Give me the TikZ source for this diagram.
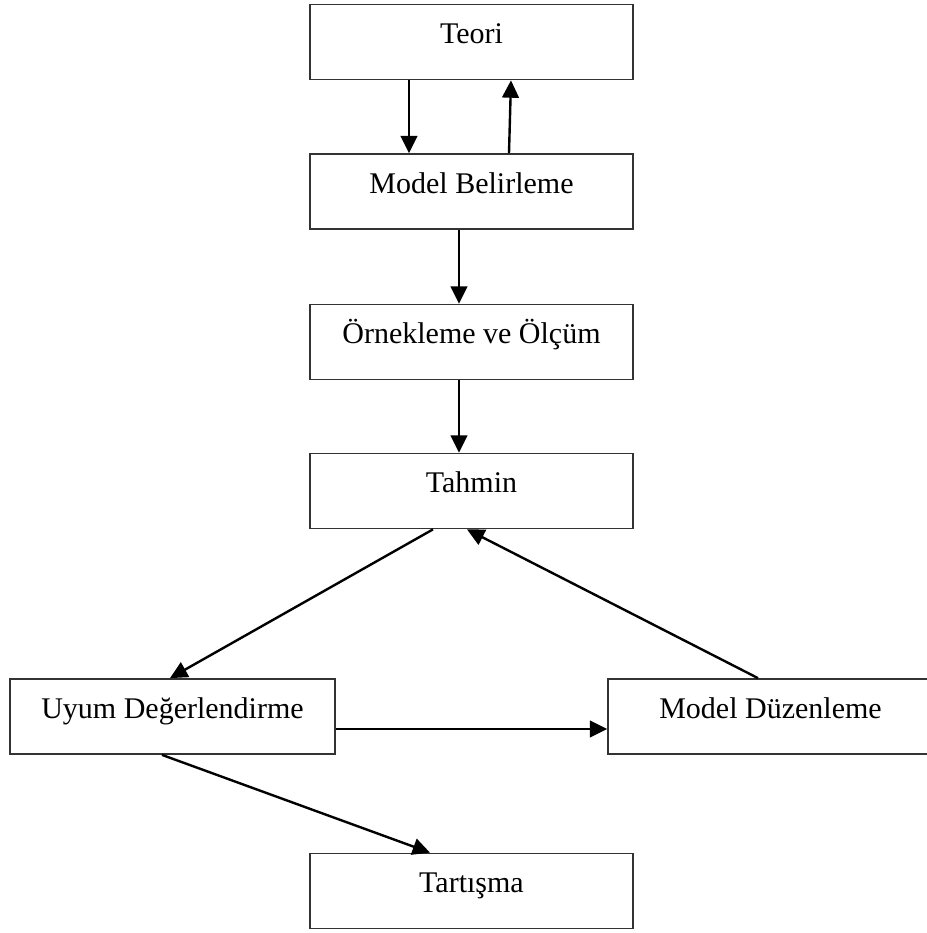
\documentclass[tikz,border=0pt]{standalone}
\usepackage{fontspec}
\setmainfont{Liberation Serif}
\usetikzlibrary{arrows.meta}
\begin{document}
\begin{tikzpicture}[x=0.75pt,y=-0.75pt,
  box/.style={draw=black!80, line width=1.3pt, rectangle, inner xsep=0pt, inner ysep=0pt,
    minimum width=323*0.75pt, text height=39*0.75pt, text depth=36*0.75pt,
    font=\fontsize{22.5}{26}\selectfont, align=center},
  arr/.style={line width=1.8pt, -{Triangle[length=13pt,width=12.5pt]}}]
\useasboundingbox (0,0) rectangle (927,933);
\clip (0,0) rectangle (927,933);
\node[box] (teori) at (471.5,42) {Teori};
\node[box] (mb) at (471.5,191.5) {Model Belirleme};
\node[box] (oe) at (471.5,342) {Örnekleme ve Ölçüm};
\node[box] (tah) at (471.5,491) {Tahmin};
\node[box, minimum width=325*0.75pt] (uyum) at (172.5,716.5) {Uyum Değerlendirme};
\node[box, minimum width=325*0.75pt] (md) at (770.5,716.5) {Model Düzenleme};
\node[box] (tart) at (471.5,891) {Tartışma};
\draw[arr] ([xshift=-62.5*0.75pt]teori.south) -- ([xshift=-62.5*0.75pt]mb.north);
\draw[arr] ([xshift=37.5*0.75pt]mb.north) -- ([xshift=39.5*0.75pt]teori.south);
\draw[arr] ([xshift=-12.5*0.75pt]mb.south) -- ([xshift=-12.5*0.75pt]oe.north);
\draw[arr] ([xshift=-12.5*0.75pt]oe.south) -- ([xshift=-12.5*0.75pt]tah.north);
\draw[arr] ([xshift=-38.5*0.75pt]tah.south) -- ([xshift=-2.5*0.75pt]uyum.north);
\draw[arr] ([xshift=-12.5*0.75pt]md.north) -- ([xshift=-4.5*0.75pt]tah.south);
\draw[arr] ([yshift=-12.5*0.75pt]uyum.east) -- ([yshift=-12.5*0.75pt]md.west);
\draw[arr] ([xshift=-10.5*0.75pt]uyum.south) -- ([xshift=-41.5*0.75pt]tart.north);
\end{tikzpicture}
\end{document}
